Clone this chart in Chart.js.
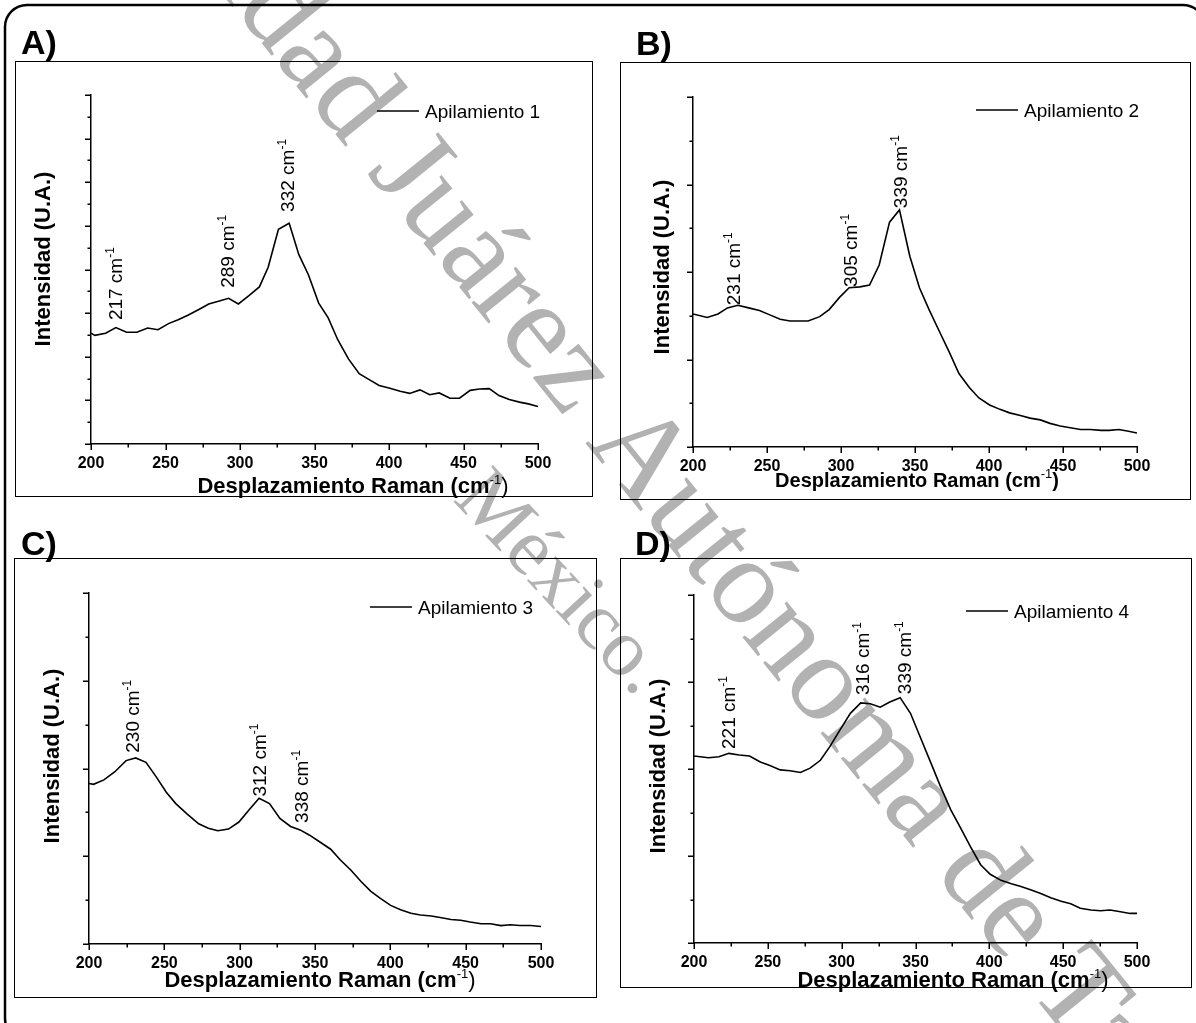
<!DOCTYPE html>
<html>
<head>
<meta charset="utf-8">
<script src="https://cdn.jsdelivr.net/npm/chart.js@4.4.1/dist/chart.umd.min.js"></script>
<style>
html, body { margin: 0; padding: 0; background: #fff; }
body { width: 1196px; height: 1023px; position: relative; overflow: hidden; }
canvas { position: absolute; }
</style>
</head>
<body>
<canvas id="page" width="1196" height="1023" style="left:0;top:0"></canvas>
<canvas id="cA"></canvas>
<canvas id="cB"></canvas>
<canvas id="cC"></canvas>
<canvas id="cD"></canvas>
<script>
// Raman shift (cm-1) and intensity (a.u.)
var xA = [200,202.6,209.8,216.7,223.9,230.8,238,245,252,258.5,265,272.7,279,285.5,292.4,298.9,306,313,318.9,325.8,333,339.5,345.9,352.8,359.2,365.6,372.8,380,387,393.4,400.6,407.5,413.9,420.8,427.3,433.7,440.9,447.3,454.5,460.7,467.3,473.8,480.7,487.6,493.5,500];
var yA = [2.54,2.49,2.54,2.67,2.56,2.56,2.66,2.62,2.76,2.85,2.95,3.09,3.21,3.27,3.34,3.21,3.40,3.60,4.05,4.92,5.06,4.34,3.88,3.23,2.89,2.39,1.95,1.61,1.47,1.34,1.28,1.21,1.16,1.24,1.13,1.17,1.05,1.05,1.23,1.26,1.27,1.11,1.02,0.96,0.92,0.86];

var xB = [200,209.6,216.9,223.3,230.3,237.6,244.9,251.9,258.9,265.6,271.3,277.8,285.6,292,299,305.5,312.8,319.3,325.8,332.8,339.5,346.5,353,359.5,366.5,373,379.7,386.7,393.2,400.4,407.4,413.9,421.2,427.7,434.7,441.2,448.1,454.9,461.9,468.4,475.6,481.3,487.8,494.3,500];
var yB = [1.52,1.48,1.52,1.59,1.62,1.59,1.56,1.51,1.46,1.44,1.44,1.44,1.49,1.57,1.71,1.82,1.83,1.85,2.08,2.57,2.71,2.18,1.82,1.57,1.32,1.09,0.84,0.68,0.56,0.48,0.43,0.39,0.36,0.33,0.31,0.27,0.24,0.22,0.20,0.20,0.19,0.19,0.20,0.18,0.16];

var xC = [200,203,209.9,217,224.6,231,237.8,244.4,251.3,257.6,265.2,272.8,279.2,285.5,292.6,299.5,306.3,312.9,319.8,326.7,333.8,340.1,346.4,353.5,360.4,366.7,373.9,380.7,387.1,393.4,400.2,406.8,413.7,420,427.2,434,440.3,446.7,453,460.2,466.5,473.4,479.7,486,493.1,500];
var yC = [1.83,1.82,1.87,1.96,2.09,2.12,2.07,1.91,1.73,1.60,1.48,1.37,1.32,1.29,1.31,1.39,1.53,1.66,1.60,1.43,1.34,1.30,1.24,1.16,1.08,0.96,0.84,0.71,0.60,0.52,0.44,0.39,0.35,0.33,0.32,0.30,0.28,0.27,0.25,0.23,0.23,0.21,0.22,0.21,0.21,0.20];

var xD = [200,209.9,216.9,223.6,230.6,237.6,244.9,251.4,258.4,265.1,272.1,278.6,285.6,292.1,298.9,305.9,312.9,319.4,326.1,332.6,339.6,346.6,353.4,360.4,366.9,373.9,380.6,387.1,394.1,400.6,407.9,414.9,421.4,428.4,434.8,441.6,448.6,455.1,461.6,468.8,475.3,481.8,488.8,495.3,500];
var yD = [2.15,2.13,2.14,2.18,2.16,2.15,2.08,2.04,1.99,1.98,1.96,2.01,2.10,2.26,2.45,2.64,2.76,2.75,2.71,2.77,2.82,2.64,2.36,2.07,1.80,1.53,1.32,1.11,0.90,0.79,0.72,0.68,0.65,0.61,0.57,0.52,0.48,0.45,0.40,0.38,0.37,0.38,0.36,0.34,0.34];

// peak labels: text, and where the rotated label starts (x, y in data units)
var peaksA = ['217', '289', '332'];  var peakXA = [216.4, 291.5, 331.5]; var peakYA = [2.84, 3.58, 5.32];
var peaksB = ['231', '305', '339'];  var peakXB = [226.7, 306.1, 339.9]; var peakYB = [1.62, 1.83, 2.73];
var peaksC = ['230', '312', '338'];  var peakXC = [228.5, 312.5, 340.4]; var peakYC = [2.18, 1.68, 1.38];
var peaksD = ['221', '316', '339'];  var peakXD = [222.7, 314.1, 341.9]; var peakYD = [2.23, 2.85, 2.86];

var xTicks = [200, 250, 300, 350, 400, 450, 500];
var seriesNames = ['Apilamiento 1', 'Apilamiento 2', 'Apilamiento 3', 'Apilamiento 4'];

var SANS = '"Liberation Sans", Arial, sans-serif';

// page: watermark, outer frame, panel letters
var pg = document.getElementById('page').getContext('2d');
pg.fillStyle = '#b2b2b2';
pg.save();
pg.font = '124px "Liberation Serif", serif';
pg.translate(366, 172);
pg.rotate(51 * Math.PI / 180);
var pre = pg.measureText('Universidad ').width;
pg.fillText('Universidad Juárez Autónoma de Tabasco', -pre, 0);
pg.restore();
pg.save();
pg.font = '82px "Liberation Serif", serif';
pg.translate(452, 500);
pg.rotate(47 * Math.PI / 180);
pg.fillText('México.', 0, 0);
pg.restore();

pg.strokeStyle = '#000';
pg.lineWidth = 2.5;
pg.beginPath();
pg.roundRect(5, 5, 1200, 1035, 22);
pg.stroke();

pg.fillStyle = '#000';
pg.font = 'bold 34px ' + SANS;
pg.fillText('A)', 21, 54);
pg.fillText('B)', 636, 55);
pg.fillText('C)', 21, 555);
pg.fillText('D)', 635, 555);

function drawParts(ctx, parts, x, y, align) {
  var w = 0;
  parts.forEach(function(p) { ctx.font = p.font; w += ctx.measureText(p.t).width; });
  var cx = align === 'center' ? x - w / 2 : x;
  parts.forEach(function(p) {
    ctx.font = p.font;
    ctx.fillText(p.t, cx, y + (p.dy || 0));
    cx += ctx.measureText(p.t).width;
  });
}

var MG = 10; // canvas margin around each panel box

function decor(p) {
  return {
    id: 'decor',
    afterDraw: function(chart) {
      var ctx = chart.ctx, xs = chart.scales.x, ys = chart.scales.y, a = chart.chartArea;
      var ox = p.box[0] - MG, oy = p.box[1] - MG;
      ctx.save();
      ctx.strokeStyle = '#000';
      ctx.fillStyle = '#000';
      ctx.textAlign = 'left';
      ctx.textBaseline = 'alphabetic';
      // panel box
      ctx.lineWidth = 1;
      ctx.strokeRect(MG + 0.5, MG + 0.5, p.box[2] - p.box[0] - 1, p.box[3] - p.box[1] - 1);
      // tick marks, major and minor, outward
      ctx.lineWidth = 1.5;
      ctx.beginPath();
      for (var v = 200; v <= 500; v += 25) {
        var px = Math.round(xs.getPixelForValue(v)) + 0.25;
        ctx.moveTo(px, a.bottom);
        ctx.lineTo(px, a.bottom + (v % 50 === 0 ? 6 : 3.5));
      }
      for (var t = 0; t <= p.ymax; t += 0.5) {
        var py = Math.round(ys.getPixelForValue(t)) + 0.25;
        ctx.moveTo(a.left, py);
        ctx.lineTo(a.left - (t % 1 === 0 ? 6 : 3.5), py);
      }
      ctx.stroke();
      // legend
      ctx.beginPath();
      ctx.moveTo(p.legend[0] - ox, p.legend[1] - oy);
      ctx.lineTo(p.legend[0] - ox + 42, p.legend[1] - oy);
      ctx.stroke();
      ctx.font = '19px ' + SANS;
      ctx.fillText(p.name, p.legend[0] - ox + 48, p.legend[1] - oy + 7);
      // peak labels
      for (var i = 0; i < p.peaks.length; i++) {
        var lx = xs.getPixelForValue(p.peakX[i]) + 7;
        var ly = ys.getPixelForValue(p.peakY[i]);
        ctx.save();
        ctx.translate(lx, ly);
        ctx.rotate(-Math.PI / 2);
        drawParts(ctx, [
          { t: p.peaks[i] + ' cm', font: '19px ' + SANS },
          { t: '-1', font: '12px ' + SANS, dy: -8 }
        ], 0, 0, 'left');
        ctx.restore();
      }
      // axis titles
      drawParts(ctx, [
        { t: 'Desplazamiento Raman (cm', font: 'bold ' + p.xt[2] + 'px ' + SANS },
        { t: '-1', font: '13px ' + SANS, dy: -9 },
        { t: ')', font: (p.boldClose ? 'bold ' : '') + p.xt[2] + 'px ' + SANS }
      ], p.xt[0] - ox, p.xt[1] - oy, 'center');
      ctx.save();
      ctx.translate(p.yt[0] - ox, p.yt[1] - oy);
      ctx.rotate(-Math.PI / 2);
      ctx.font = 'bold 22px ' + SANS;
      ctx.textAlign = 'center';
      ctx.fillText('Intensidad (U.A.)', 0, 0);
      ctx.restore();
      ctx.restore();
    }
  };
}

var panels = [
  { id: 'cA', box: [15, 61, 593, 497], plot: [91, 95, 538, 444], ymax: 8, x: xA, y: yA, name: seriesNames[0],
    peaks: peaksA, peakX: peakXA, peakY: peakYA, legend: [377, 111], xt: [353, 493, 22], yt: [50, 259], boldClose: false },
  { id: 'cB', box: [620, 62, 1191, 500], plot: [693, 97, 1137, 447], ymax: 4, x: xB, y: yB, name: seriesNames[1],
    peaks: peaksB, peakX: peakXB, peakY: peakYB, legend: [976, 110], xt: [917, 487, 20], yt: [669, 267], boldClose: true },
  { id: 'cC', box: [14, 558, 597, 998], plot: [89, 593, 541, 944], ymax: 4, x: xC, y: yC, name: seriesNames[2],
    peaks: peaksC, peakX: peakXC, peakY: peakYC, legend: [370, 607], xt: [320, 987, 22], yt: [59, 756], boldClose: false },
  { id: 'cD', box: [620, 558, 1192, 988], plot: [694, 595, 1137, 943], ymax: 4, x: xD, y: yD, name: seriesNames[3],
    peaks: peaksD, peakX: peakXD, peakY: peakYD, legend: [966, 611], xt: [953, 987, 22], yt: [665, 766], boldClose: false }
];

var XH = 30;
panels.forEach(function(p) {
  var cv = document.getElementById(p.id);
  var w = p.box[2] - p.box[0] + 2 * MG, h = p.box[3] - p.box[1] + 2 * MG;
  cv.width = w; cv.height = h;
  cv.style.left = (p.box[0] - MG) + 'px'; cv.style.top = (p.box[1] - MG) + 'px';
  cv.style.width = w + 'px'; cv.style.height = h + 'px';
  var pts = p.x.map(function(v, i) { return { x: v, y: p.y[i] }; });
  new Chart(cv, {
    type: 'line',
    data: { datasets: [{ label: p.name, data: pts, borderColor: '#000', borderWidth: 1.6,
      pointRadius: 0, tension: 0, fill: false }] },
    options: {
      responsive: false, animation: false, devicePixelRatio: 1,
      layout: { padding: { left: p.plot[0] - p.box[0] + MG, top: p.plot[1] - p.box[1] + MG,
        right: p.box[2] - p.plot[2] + MG, bottom: p.box[3] - p.plot[3] - XH + MG } },
      plugins: { legend: { display: false }, tooltip: { enabled: false } },
      scales: {
        x: {
          type: 'linear', min: 200, max: 500,
          afterFit: function(s) { s.height = XH; s.paddingLeft = 0; s.paddingRight = 0; },
          afterBuildTicks: function(s) { s.ticks = xTicks.map(function(v) { return { value: v }; }); },
          border: { display: true, color: '#000', width: 1.5 },
          grid: { display: false, drawTicks: false },
          ticks: { color: '#000', padding: 10, maxRotation: 0, autoSkip: false,
            font: { family: 'Liberation Sans', size: 16, weight: 'bold' } }
        },
        y: {
          min: 0, max: p.ymax,
          afterFit: function(s) { s.width = 0; },
          border: { display: true, color: '#000', width: 1.5 },
          grid: { display: false, drawTicks: false },
          ticks: { display: false }
        }
      }
    },
    plugins: [decor(p)]
  });
});
</script>
</body>
</html>
